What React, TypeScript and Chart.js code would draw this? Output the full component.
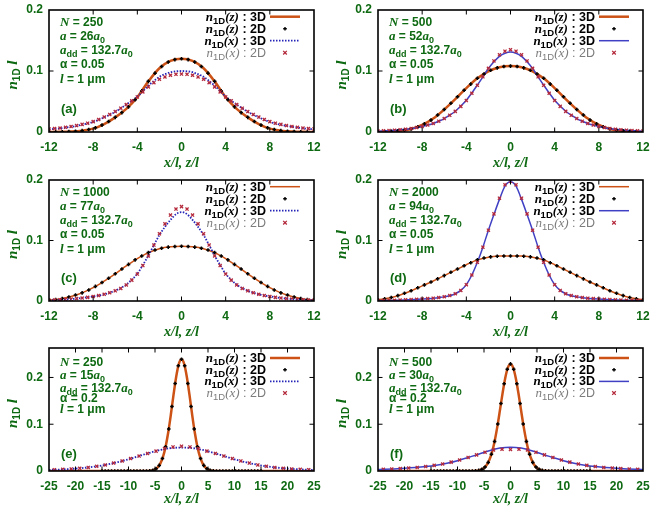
import React, { useEffect, useRef } from 'react';
import { Chart, registerables } from 'chart.js';
Chart.register(...registerables);

// ---------- x grids ----------
const gridInt12 = [-12,-11,-10,-9,-8,-7,-6,-5,-4,-3,-2,-1,0,1,2,3,4,5,6,7,8,9,10,11,12];
const gridP6_12 = [-12,-11.4,-10.8,-10.2,-9.6,-9,-8.4,-7.8,-7.2,-6.6,-6,-5.4,-4.8,-4.2,-3.6,-3,-2.4,-1.8,-1.2,-0.6,0,0.6,1.2,1.8,2.4,3,3.6,4.2,4.8,5.4,6,6.6,7.2,7.8,8.4,9,9.6,10.2,10.8,11.4,12];
const gridHalf12 = [-12,-11.5,-11,-10.5,-10,-9.5,-9,-8.5,-8,-7.5,-7,-6.5,-6,-5.5,-5,-4.5,-4,-3.5,-3,-2.5,-2,-1.5,-1,-0.5,0,0.5,1,1.5,2,2.5,3,3.5,4,4.5,5,5.5,6,6.5,7,7.5,8,8.5,9,9.5,10,10.5,11,11.5,12];
const gridZLine25 = [-25,-7,-6.5,-6,-5.5,-5,-4.5,-4,-3.5,-3,-2.5,-2,-1.5,-1,-0.5,0,0.5,1,1.5,2,2.5,3,3.5,4,4.5,5,5.5,6,6.5,7,25];
const gridZPts25 = [-15,-14.4,-13.8,-13.2,-12.6,-12,-11.4,-10.8,-10.2,-9.6,-9,-8.4,-7.8,-7.2,-6.6,-6,-5.4,-4.8,-4.2,-3.6,-3,-2.4,-1.8,-1.2,-0.6,0,0.6,1.2,1.8,2.4,3,3.6,4.2,4.8,5.4,6,6.6,7.2,7.8,8.4,9,9.6,10.2,10.8,11.4,12,12.6,13.2,13.8,14.4,15];
const gridXLine25 = [-25,-24,-22,-20,-18,-16,-14,-12,-10,-8,-6,-4,-2,0,2,4,6,8,10,12,14,16,18,20,22,24,25];
const gridXPts25 = [-24,-22.4,-20.8,-19.2,-17.6,-16,-14.4,-12.8,-11.2,-9.6,-8,-6.4,-4.8,-3.2,-1.6,0,1.6,3.2,4.8,6.4,8,9.6,11.2,12.8,14.4,16,17.6,19.2,20.8,22.4,24];

// ---------- tick values ----------
const xTicks12 = [-12,-8,-4,0,4,8,12];
const xTicks25 = [-25,-20,-15,-10,-5,0,5,10,15,20,25];
const yTicksAll = [0,0.1,0.2];

// ---------- panel parameters ----------
const panelLabels = ['(a)','(b)','(c)','(d)','(e)','(f)'];
const atomNumbers = ['250','500','1000','2000','250','500'];
const scatLengths = ['26','52','77','94','15','30'];
const alphas = ['0.05','0.05','0.05','0.05','0.2','0.2'];

// ---------- panel (a) ----------
const zLineA = [0.0001,0.0003,0.0008,0.0022,0.0055,0.013,0.024,0.038,0.057,0.083,0.1045,0.1165,0.12,0.1165,0.1045,0.083,0.057,0.038,0.024,0.013,0.0055,0.0022,0.0008,0.0003,0.0001];
const zPtsA = [0.0001,0.0002,0.0004,0.0007,0.0012,0.0022,0.004,0.0068,0.0113,0.0171,0.024,0.0318,0.0412,0.053,0.0674,0.083,0.0965,0.1075,0.1148,0.1187,0.12,0.1187,0.1148,0.1075,0.0965,0.083,0.0674,0.053,0.0412,0.0318,0.024,0.0171,0.0113,0.0068,0.004,0.0022,0.0012,0.0007,0.0004,0.0002,0.0001];
const xLineA = [0.0045,0.0052,0.006,0.0072,0.0085,0.01,0.012,0.014,0.0165,0.02,0.024,0.0283,0.033,0.0388,0.045,0.0513,0.058,0.067,0.076,0.0838,0.0905,0.0948,0.098,0.0995,0.1,0.0995,0.098,0.0948,0.0905,0.0838,0.076,0.067,0.058,0.0513,0.045,0.0388,0.033,0.0283,0.024,0.02,0.0165,0.014,0.012,0.01,0.0085,0.0072,0.006,0.0052,0.0045];
const xPtsA = [0.005,0.0057,0.0065,0.0077,0.009,0.0105,0.0125,0.0145,0.017,0.0205,0.0245,0.0288,0.0335,0.039,0.045,0.051,0.0575,0.0658,0.074,0.0808,0.0865,0.0903,0.093,0.0945,0.095,0.0945,0.093,0.0903,0.0865,0.0808,0.074,0.0658,0.0575,0.051,0.045,0.039,0.0335,0.0288,0.0245,0.0205,0.017,0.0145,0.0125,0.0105,0.009,0.0077,0.0065,0.0057,0.005];

// ---------- panel (b) ----------
const zLineB = [0.0002,0.0007,0.002,0.005,0.0115,0.022,0.037,0.054,0.072,0.088,0.0995,0.106,0.108,0.106,0.0995,0.088,0.072,0.054,0.037,0.022,0.0115,0.005,0.002,0.0007,0.0002];
const zPtsB = [0.0002,0.0005,0.001,0.0018,0.0031,0.005,0.0085,0.0133,0.0195,0.0278,0.037,0.0472,0.0577,0.0685,0.0785,0.088,0.0951,0.1012,0.1052,0.1073,0.108,0.1073,0.1052,0.1012,0.0951,0.088,0.0785,0.0685,0.0577,0.0472,0.037,0.0278,0.0195,0.0133,0.0085,0.005,0.0031,0.0018,0.001,0.0005,0.0002];
const xLineB = [0.0014,0.0018,0.0022,0.0028,0.0035,0.0044,0.0055,0.007,0.009,0.0113,0.014,0.0177,0.022,0.0275,0.034,0.0425,0.052,0.064,0.077,0.0905,0.104,0.115,0.124,0.129,0.131,0.129,0.124,0.115,0.104,0.0905,0.077,0.064,0.052,0.0425,0.034,0.0275,0.022,0.0177,0.014,0.0113,0.009,0.007,0.0055,0.0044,0.0035,0.0028,0.0022,0.0018,0.0014];
const xPtsB = [0.0015,0.0019,0.0024,0.003,0.0037,0.0046,0.0057,0.0072,0.0091,0.0114,0.0141,0.0177,0.022,0.0273,0.0338,0.042,0.0515,0.0635,0.0765,0.0905,0.1045,0.1165,0.1265,0.1325,0.135,0.1325,0.1265,0.1165,0.1045,0.0905,0.0765,0.0635,0.0515,0.042,0.0338,0.0273,0.022,0.0177,0.0141,0.0114,0.0091,0.0072,0.0057,0.0046,0.0037,0.003,0.0024,0.0019,0.0015];

// ---------- panel (c) ----------
const zLineC = [0.0015,0.0035,0.0075,0.0135,0.022,0.033,0.045,0.058,0.07,0.08,0.0865,0.0895,0.0905,0.0895,0.0865,0.08,0.07,0.058,0.045,0.033,0.022,0.0135,0.0075,0.0035,0.0015];
const zPtsC = [0.0015,0.0026,0.0042,0.0067,0.0099,0.0135,0.0182,0.0241,0.0307,0.0377,0.045,0.0528,0.0605,0.068,0.0743,0.08,0.0842,0.0872,0.089,0.0901,0.0905,0.0901,0.089,0.0872,0.0842,0.08,0.0743,0.068,0.0605,0.0528,0.045,0.0377,0.0307,0.0241,0.0182,0.0135,0.0099,0.0067,0.0042,0.0026,0.0015];
const xLineC = [0.0013,0.0016,0.002,0.0026,0.0032,0.004,0.005,0.0062,0.0075,0.0091,0.011,0.0137,0.017,0.0213,0.027,0.0352,0.045,0.0595,0.075,0.0925,0.109,0.1225,0.134,0.1435,0.147,0.1435,0.134,0.1225,0.109,0.0925,0.075,0.0595,0.045,0.0352,0.027,0.0213,0.017,0.0137,0.011,0.0091,0.0075,0.0062,0.005,0.004,0.0032,0.0026,0.002,0.0016,0.0013];
const xPtsC = [0.0013,0.0016,0.002,0.0026,0.0032,0.004,0.0049,0.006,0.0074,0.009,0.011,0.0136,0.0168,0.0208,0.0265,0.0345,0.0445,0.0585,0.0745,0.0925,0.111,0.1275,0.142,0.152,0.156,0.152,0.142,0.1275,0.111,0.0925,0.0745,0.0585,0.0445,0.0345,0.0265,0.0208,0.0168,0.0136,0.011,0.009,0.0074,0.006,0.0049,0.004,0.0032,0.0026,0.002,0.0016,0.0013];

// ---------- panel (d) ----------
const zLineD = [0.002,0.005,0.01,0.017,0.025,0.033,0.042,0.051,0.06,0.068,0.0725,0.0742,0.0745,0.0742,0.0725,0.068,0.06,0.051,0.042,0.033,0.025,0.017,0.01,0.005,0.002];
const zPtsD = [0.002,0.0035,0.0059,0.0089,0.0128,0.017,0.0218,0.0266,0.0313,0.0366,0.042,0.0474,0.0528,0.0583,0.0633,0.068,0.071,0.073,0.0739,0.0744,0.0745,0.0744,0.0739,0.073,0.071,0.068,0.0633,0.0583,0.0528,0.0474,0.042,0.0366,0.0313,0.0266,0.0218,0.017,0.0128,0.0089,0.0059,0.0035,0.002];
const xLineD = [0.0005,0.0007,0.0009,0.0011,0.0014,0.0018,0.0022,0.0027,0.0032,0.0038,0.0045,0.0055,0.0068,0.0088,0.012,0.0175,0.027,0.043,0.064,0.089,0.117,0.143,0.168,0.19,0.197,0.19,0.168,0.143,0.117,0.089,0.064,0.043,0.027,0.0175,0.012,0.0088,0.0068,0.0055,0.0045,0.0038,0.0032,0.0027,0.0022,0.0018,0.0014,0.0011,0.0009,0.0007,0.0005];
const xPtsD = [0.0006,0.0008,0.001,0.0012,0.0015,0.0019,0.0023,0.0028,0.0033,0.004,0.0047,0.0057,0.007,0.009,0.012,0.0175,0.027,0.043,0.064,0.089,0.117,0.144,0.17,0.192,0.198,0.192,0.17,0.144,0.117,0.089,0.064,0.043,0.027,0.0175,0.012,0.009,0.007,0.0057,0.0047,0.004,0.0033,0.0028,0.0023,0.0019,0.0015,0.0012,0.001,0.0008,0.0006];

// ---------- panel (e) ----------
const zLineE = [0,0.0001,0.0002,0.0005,0.0014,0.0034,0.0077,0.0159,0.03,0.052,0.0829,0.1213,0.1632,0.2017,0.2291,0.239,0.2291,0.2017,0.1632,0.1213,0.0829,0.052,0.03,0.0159,0.0077,0.0034,0.0014,0.0005,0.0002,0.0001,0];
const zPtsE = [0,0,0,0,0,0,0,0,0,0,0,0,0,0,0.0001,0.0005,0.0017,0.0048,0.012,0.0266,0.052,0.09,0.138,0.1872,0.2249,0.239,0.2249,0.1872,0.138,0.09,0.052,0.0266,0.012,0.0048,0.0017,0.0005,0.0001,0,0,0,0,0,0,0,0,0,0,0,0,0,0];
const xLineE = [0.0023,0.0027,0.0037,0.0052,0.0072,0.01,0.014,0.019,0.025,0.032,0.039,0.045,0.049,0.05,0.049,0.045,0.039,0.032,0.025,0.019,0.014,0.01,0.0072,0.0052,0.0037,0.0027,0.0023];
const xPtsE = [0.0028,0.0035,0.0045,0.0058,0.0076,0.01,0.013,0.017,0.0215,0.0265,0.032,0.0375,0.0425,0.048,0.0515,0.053,0.0515,0.048,0.0425,0.0375,0.032,0.0265,0.0215,0.017,0.013,0.01,0.0076,0.0058,0.0045,0.0035,0.0028];

// ---------- panel (f) ----------
const zLineF = [0,0.0002,0.0005,0.0013,0.003,0.0064,0.0127,0.0233,0.0398,0.0633,0.0938,0.1293,0.1661,0.1985,0.221,0.229,0.221,0.1985,0.1661,0.1293,0.0938,0.0633,0.0398,0.0233,0.0127,0.0064,0.003,0.0013,0.0005,0.0002,0];
const zPtsF = [0,0,0,0,0,0,0,0,0,0,0,0,0,0.0001,0.0005,0.0013,0.0036,0.0085,0.0184,0.036,0.0633,0.1006,0.1442,0.1864,0.2175,0.229,0.2175,0.1864,0.1442,0.1006,0.0633,0.036,0.0184,0.0085,0.0036,0.0013,0.0005,0.0001,0,0,0,0,0,0,0,0,0,0,0,0,0];
const xLineF = [0.0032,0.0036,0.0045,0.0057,0.0073,0.0095,0.0125,0.0165,0.022,0.029,0.036,0.0435,0.049,0.051,0.049,0.0435,0.036,0.029,0.022,0.0165,0.0125,0.0095,0.0073,0.0057,0.0045,0.0036,0.0032];
const xPtsF = [0.0036,0.0043,0.0052,0.0063,0.0077,0.0095,0.012,0.015,0.019,0.0235,0.029,0.0345,0.04,0.045,0.0465,0.046,0.0465,0.045,0.04,0.0345,0.029,0.0235,0.019,0.015,0.012,0.0095,0.0077,0.0063,0.0052,0.0043,0.0036];

// ---------- styling ----------
const GREEN = '#0e6a12';
const ORANGE = '#cc5216';
const BLUE_DOT = '#2424b8';
const BLUE_SOLID = '#4040c4';
const RED = '#b42a3c';
const GRAY = '#7c7c7c';
const SANS = '"Liberation Sans", Arial, Helvetica, sans-serif';
const SERIF = '"Liberation Serif", "Times New Roman", serif';
const mi = (s: number) => `italic bold ${s}px ${SERIF}`;
const sb = (s: number) => `bold ${s}px ${SANS}`;

type Seg = { t: string; f: string; dy?: number };

type PanelSpec = {
  idx: number;
  zl: [number[], number[]];
  zp: [number[], number[]];
  xl: [number[], number[]];
  xp: [number[], number[]];
  wide: boolean;
  dotted: boolean;
  orangeW: number;
};

const panels: PanelSpec[] = [
  { idx: 0, zl: [gridInt12, zLineA], zp: [gridP6_12, zPtsA], xl: [gridHalf12, xLineA], xp: [gridHalf12, xPtsA], wide: false, dotted: true, orangeW: 2.5 },
  { idx: 1, zl: [gridInt12, zLineB], zp: [gridP6_12, zPtsB], xl: [gridHalf12, xLineB], xp: [gridHalf12, xPtsB], wide: false, dotted: false, orangeW: 2.5 },
  { idx: 2, zl: [gridInt12, zLineC], zp: [gridP6_12, zPtsC], xl: [gridHalf12, xLineC], xp: [gridHalf12, xPtsC], wide: false, dotted: true, orangeW: 1.5 },
  { idx: 3, zl: [gridInt12, zLineD], zp: [gridP6_12, zPtsD], xl: [gridHalf12, xLineD], xp: [gridHalf12, xPtsD], wide: false, dotted: false, orangeW: 1.5 },
  { idx: 4, zl: [gridZLine25, zLineE], zp: [gridZPts25, zPtsE], xl: [gridXLine25, xLineE], xp: [gridXPts25, xPtsE], wide: true, dotted: true, orangeW: 2.5 },
  { idx: 5, zl: [gridZLine25, zLineF], zp: [gridZPts25, zPtsF], xl: [gridXLine25, xLineF], xp: [gridXPts25, xPtsF], wide: true, dotted: false, orangeW: 2.5 },
];

const toXY = (xs: number[], ys: number[]) => xs.map((x, i) => ({ x, y: ys[i] }));

function segWidth(ctx: CanvasRenderingContext2D, segs: Seg[]) {
  let w = 0;
  for (const s of segs) { ctx.font = s.f; w += ctx.measureText(s.t).width; }
  return w;
}
function drawSegs(ctx: CanvasRenderingContext2D, segs: Seg[], x: number, y: number, color: string) {
  let cx = x;
  ctx.fillStyle = color;
  ctx.textAlign = 'left';
  ctx.textBaseline = 'alphabetic';
  for (const s of segs) {
    ctx.font = s.f;
    ctx.fillText(s.t, cx, y + (s.dy || 0));
    cx += ctx.measureText(s.t).width;
  }
}

function makeDeco(p: PanelSpec) {
  return {
    id: 'deco' + p.idx,
    afterDraw(chart: any) {
      const ctx: CanvasRenderingContext2D = chart.ctx;
      const a = chart.chartArea;
      const sx = chart.scales.x, sy = chart.scales.y;
      const blue = p.dotted ? BLUE_DOT : BLUE_SOLID;
      ctx.save();
      // frame
      ctx.strokeStyle = '#000';
      ctx.lineWidth = 1.6;
      ctx.strokeRect(a.left, a.top, a.right - a.left, a.bottom - a.top);
      // inward ticks
      ctx.lineWidth = 1;
      ctx.beginPath();
      const xt = p.wide ? xTicks25 : xTicks12;
      for (const v of xt) {
        const px = sx.getPixelForValue(v);
        if (px <= a.left + 1 || px >= a.right - 1) continue;
        ctx.moveTo(px, a.bottom); ctx.lineTo(px, a.bottom - 4.5);
        ctx.moveTo(px, a.top); ctx.lineTo(px, a.top + 4.5);
      }
      for (const v of yTicksAll) {
        const py = sy.getPixelForValue(v);
        if (py >= a.bottom - 1 || py <= a.top + 1) continue;
        ctx.moveTo(a.left, py); ctx.lineTo(a.left + 4.5, py);
        ctx.moveTo(a.right, py); ctx.lineTo(a.right - 4.5, py);
      }
      ctx.stroke();

      // annotation block
      const i = p.idx;
      const lines: Seg[][] = [
        [{ t: 'N', f: mi(13) }, { t: ' = ' + atomNumbers[i], f: sb(12) }],
        [{ t: 'a', f: mi(13) }, { t: ' = ' + scatLengths[i], f: sb(12) }, { t: 'a', f: mi(13) }, { t: '0', f: sb(9), dy: 3 }],
        [{ t: 'a', f: mi(13) }, { t: 'dd', f: sb(9), dy: 3 }, { t: ' = 132.7', f: sb(12) }, { t: 'a', f: mi(13) }, { t: '0', f: sb(9), dy: 3 }],
        [{ t: 'α = ' + alphas[i], f: sb(12) }],
        [{ t: 'l', f: mi(13) }, { t: ' = 1 μm', f: sb(12) }],
      ];
      const bl = p.wide ? [17.5, 30.5, 43.5, 54.3, 65.3] : [15.5, 30, 44.2, 58.4, 72.8];
      lines.forEach((segs, k) => drawSegs(ctx, segs, a.left + 11, a.top + bl[k], GREEN));

      // panel label
      drawSegs(ctx, [{ t: panelLabels[i], f: sb(13) }], a.left + 12, a.bottom - (p.wide ? 13.5 : 19.5), GREEN);

      // legend
      const rows: { segs: Seg[]; color: string }[] = [
        { segs: [{ t: 'n', f: mi(13) }, { t: '1D', f: sb(9.5), dy: 3 }, { t: '(z)', f: mi(13) }, { t: ' : 3D', f: sb(12.5) }], color: '#000' },
        { segs: [{ t: 'n', f: mi(13) }, { t: '1D', f: sb(9.5), dy: 3 }, { t: '(z)', f: mi(13) }, { t: ' : 2D', f: sb(12.5) }], color: '#000' },
        { segs: [{ t: 'n', f: mi(13) }, { t: '1D', f: sb(9.5), dy: 3 }, { t: '(x)', f: mi(13) }, { t: ' : 3D', f: sb(12.5) }], color: '#000' },
        { segs: [{ t: 'n', f: `italic 13px ${SERIF}` }, { t: '1D', f: `9.5px ${SANS}`, dy: 3 }, { t: '(x)', f: `italic 13px ${SERIF}` }, { t: ' : 2D', f: `12.5px ${SANS}` }], color: GRAY },
      ];
      const lb0 = p.wide ? 14 : 10.7;
      const lstep = p.wide ? 11.7 : 12;
      rows.forEach((r, k) => {
        const by = a.top + lb0 + lstep * k;
        const w = segWidth(ctx, r.segs);
        drawSegs(ctx, r.segs, a.right - 48 - w, by, r.color);
        const cy = by - 4;
        const x0 = a.right - 44, x1 = a.right - 14, xm = a.right - 29;
        if (k === 0) {
          ctx.strokeStyle = ORANGE; ctx.lineWidth = p.orangeW; ctx.setLineDash([]);
          ctx.beginPath(); ctx.moveTo(x0, cy); ctx.lineTo(x1, cy); ctx.stroke();
        } else if (k === 2) {
          ctx.strokeStyle = blue; ctx.lineWidth = p.dotted ? 1.8 : 1.5; ctx.setLineDash(p.dotted ? [1.5, 1.5] : []);
          ctx.beginPath(); ctx.moveTo(x0, cy); ctx.lineTo(x1, cy); ctx.stroke();
          ctx.setLineDash([]);
        } else if (k === 1) {
          ctx.strokeStyle = '#000'; ctx.lineWidth = 1.4;
          ctx.beginPath(); ctx.moveTo(xm - 1.8, cy); ctx.lineTo(xm + 1.8, cy); ctx.moveTo(xm, cy - 1.8); ctx.lineTo(xm, cy + 1.8); ctx.stroke();
        } else {
          ctx.strokeStyle = RED; ctx.lineWidth = 1.3;
          ctx.beginPath(); ctx.moveTo(xm - 1.8, cy - 1.8); ctx.lineTo(xm + 1.8, cy + 1.8); ctx.moveTo(xm - 1.8, cy + 1.8); ctx.lineTo(xm + 1.8, cy - 1.8); ctx.stroke();
        }
      });

      // y title
      const ySegs: Seg[] = [{ t: 'n', f: mi(15) }, { t: '1D', f: sb(10), dy: 3 }, { t: ' l', f: mi(15) }];
      const yw = segWidth(ctx, ySegs);
      ctx.save();
      ctx.translate(a.left - 36, (a.top + a.bottom) / 2 + 4);
      ctx.rotate(-Math.PI / 2);
      drawSegs(ctx, ySegs, -yw / 2, 4, GREEN);
      ctx.restore();

      // x title
      const xSegs: Seg[] = [{ t: 'x/l, z/l', f: mi(14) }];
      const xw = segWidth(ctx, xSegs);
      drawSegs(ctx, xSegs, (a.left + a.right) / 2 - xw / 2, a.bottom + (p.wide ? 32 : 35), GREEN);

      ctx.restore();
    },
  };
}

function buildConfig(p: PanelSpec, yAxisW: number, xAxisH: number, padTop: number, padRight: number): any {
  const blue = p.dotted ? BLUE_DOT : BLUE_SOLID;
  const tickFont = { family: SANS, weight: 'bold', size: 12 };
  return {
    type: 'line',
    data: {
      datasets: [
        {
          data: toXY(p.xp[0], p.xp[1]), showLine: false, pointStyle: 'crossRot', pointRadius: 2.2,
          pointBorderColor: RED, pointBorderWidth: 1.3, borderColor: RED, order: 0,
        },
        {
          data: toXY(p.zp[0], p.zp[1]), showLine: false, pointStyle: 'cross', pointRadius: 1.8,
          pointBorderColor: '#000', pointBorderWidth: 1.5, borderColor: '#000', order: 1,
        },
        {
          data: toXY(p.xl[0], p.xl[1]), borderColor: blue, borderWidth: p.dotted ? 1.8 : 1.5,
          borderDash: p.dotted ? [1.5, 1.5] : [], pointRadius: 0, cubicInterpolationMode: 'monotone', order: 2,
        },
        {
          data: toXY(p.zl[0], p.zl[1]), borderColor: ORANGE, borderWidth: p.orangeW,
          pointRadius: 0, cubicInterpolationMode: 'monotone', order: 3,
        },
      ],
    },
    options: {
      animation: false,
      responsive: false,
      events: [],
      layout: { padding: { left: 0, right: padRight, top: padTop, bottom: 0 } },
      plugins: { legend: { display: false }, tooltip: { enabled: false }, title: { display: false } },
      scales: {
        x: {
          type: 'linear',
          min: p.wide ? -25 : -12,
          max: p.wide ? 25 : 12,
          grid: { display: false, drawTicks: false },
          border: { display: false },
          ticks: { stepSize: p.wide ? 5 : 4, color: GREEN, font: tickFont, padding: 8, maxRotation: 0, autoSkip: false,
            callback: (v: number) => String(v) },
          afterFit: (s: any) => { s.height = xAxisH; s.paddingLeft = 0; s.paddingRight = 0; },
        },
        y: {
          type: 'linear',
          min: 0,
          max: p.wide ? 0.263 : 0.2,
          grid: { display: false, drawTicks: false },
          border: { display: false },
          ticks: { stepSize: 0.1, color: GREEN, font: tickFont, padding: 6, autoSkip: false,
            callback: (v: number) => {
              const r = Math.round(v * 10) / 10;
              return Math.abs(v - r) < 1e-6 ? String(r) : '';
            } },
          afterFit: (s: any) => { s.width = yAxisW; s.paddingTop = 0; s.paddingBottom = 0; },
        },
      },
    },
    plugins: [makeDeco(p)],
  };
}

const rowTops = [0, 170, 340];
const rowHeights = [170, 170, 174];
const rowPadTop = [10, 10, 8];
const rowXAxisH = [38, 39, 43];
const colLefts = [0, 325];
const colYAxisW = [49, 53];
const colPadRight = [11, 7];

function PanelChart({ p }: { p: PanelSpec }) {
  const ref = useRef<HTMLCanvasElement | null>(null);
  const row = Math.floor(p.idx / 2);
  const col = p.idx % 2;
  const w = 325, h = rowHeights[row];
  useEffect(() => {
    if (!ref.current) return;
    const chart = new Chart(ref.current, buildConfig(p, colYAxisW[col], rowXAxisH[row], rowPadTop[row], colPadRight[col]));
    return () => chart.destroy();
  }, []);
  return (
    <canvas
      ref={ref}
      width={w}
      height={h}
      style={{ position: 'absolute', left: colLefts[col], top: rowTops[row], width: w, height: h }}
    />
  );
}

export default function App() {
  return (
    <div style={{ position: 'absolute', left: 0, top: 0, width: 650, height: 514, background: '#fff', overflow: 'hidden' }}>
      {panels.map((p) => <PanelChart key={p.idx} p={p} />)}
    </div>
  );
}
